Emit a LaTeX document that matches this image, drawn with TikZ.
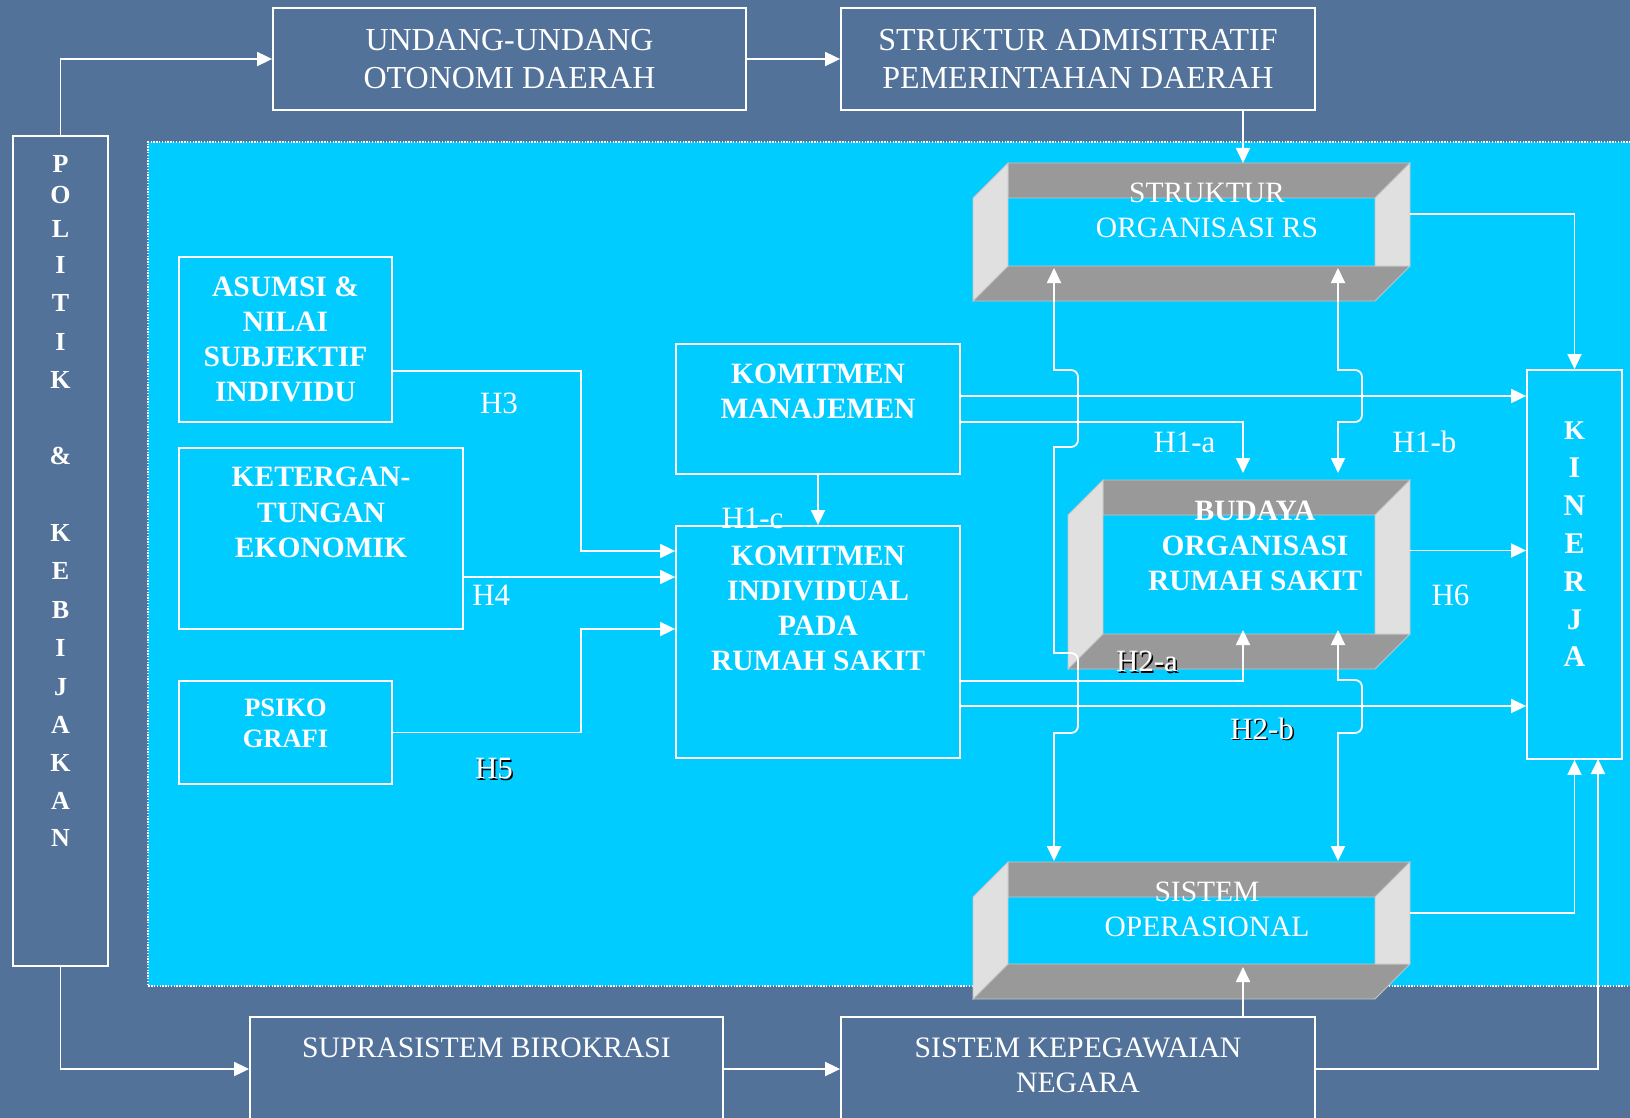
\documentclass[tikz,border=0pt]{standalone}
\usepackage{fontspec}
\setmainfont{Liberation Serif}
\usetikzlibrary{arrows.meta}
\definecolor{bgc}{RGB}{82,114,154}
\definecolor{panel}{RGB}{0,204,255}
\definecolor{dband}{RGB}{153,153,153}
\definecolor{lband}{RGB}{224,224,224}
\definecolor{edgec}{RGB}{196,196,196}
\newcommand\tdbox[4]{%
 \filldraw[fill=dband,draw=edgec,line width=.8pt] (#1+35,#2) -- (#3,#2) -- (#3-35,#2+35) -- (#1+35,#2+35) -- cycle;
 \filldraw[fill=dband,draw=edgec,line width=.8pt] (#1+35,#4-35) -- (#3,#4-35) -- (#3-35,#4) -- (#1,#4) -- cycle;
 \filldraw[fill=lband,draw=edgec,line width=.8pt] (#1,#2+35) -- (#1+35,#2) -- (#1+35,#4-35) -- (#1,#4) -- cycle;
 \filldraw[fill=lband,draw=edgec,line width=.8pt] (#3-35,#2+35) -- (#3,#2) -- (#3,#4-35) -- (#3-35,#4-35) -- cycle;
}
\begin{document}
\begin{tikzpicture}[x=1pt,y=-1pt,
  box/.style={draw=white, line width=1.8pt, inner sep=0pt},
  ghost/.style={inner sep=0pt},
  arr/.style={draw=white, line width=1.8pt, -{Triangle[width=14pt,length=15pt]}},
  darr/.style={draw=white, line width=1.8pt, {Triangle[width=14pt,length=15pt]}-{Triangle[width=14pt,length=15pt]}},
  t/.style={text=white, inner sep=0pt, anchor=base},
  fT/.style={font=\fontsize{32}{32}\selectfont},
  fR/.style={font=\fontsize{29.7}{29.7}\selectfont},
  fM/.style={font=\fontsize{29.5}{29.5}\selectfont},
  fB/.style={font=\fontsize{29.5}{29.5}\selectfont\bfseries},
  fS/.style={font=\fontsize{26.5}{26.5}\selectfont\bfseries},
  fP/.style={font=\fontsize{26}{26}\selectfont\bfseries},
  fK/.style={font=\fontsize{30}{30}\selectfont\bfseries},
  fH/.style={font=\fontsize{31}{31}\selectfont}]
\useasboundingbox (0,0) rectangle (1630,1118);
\clip (0,0) rectangle (1630,1118);
% background
\fill[bgc] (0,0) rectangle (1630,1118);
\fill[panel] (148,142) rectangle (1650,986);
\draw[white, line width=1.4pt, dash pattern=on 1.4pt off 1.4pt] (1650,142) -- (148,142) -- (148,986) -- (1650,986);

% 3D frames
\tdbox{973}{163}{1410}{301}
\tdbox{1068}{480}{1410}{669}
\tdbox{973}{862}{1410}{999}
\node[ghost, minimum width=437pt, minimum height=138pt] (sors) at (1191.5,232) {};
\node[ghost, minimum width=342pt, minimum height=189pt] (bud) at (1239,574.5) {};
\node[ghost, minimum width=437pt, minimum height=137pt] (so) at (1191.5,930.5) {};

% boxes
\node[box, minimum width=95pt, minimum height=830pt] (pol) at (60.5,551) {};
\node[box, minimum width=473pt, minimum height=102pt] (uu) at (509.5,59) {};
\node[box, minimum width=474pt, minimum height=102pt] (sa) at (1078,59) {};
\node[box, minimum width=213pt, minimum height=165pt] (asu) at (285.5,339.5) {};
\node[box, minimum width=284pt, minimum height=181pt] (ket) at (321,538.5) {};
\node[box, minimum width=213pt, minimum height=103pt] (psi) at (285.5,732.5) {};
\node[box, minimum width=284pt, minimum height=130pt] (km) at (818,409) {};
\node[box, minimum width=284pt, minimum height=232pt] (ki) at (818,642) {};
\node[box, minimum width=95pt, minimum height=389pt] (kin) at (1574.5,564.5) {};
\node[box, minimum width=473pt, minimum height=104pt] (sup) at (486.5,1069) {};
\node[box, minimum width=474pt, minimum height=104pt] (sk) at (1078,1069) {};

% named connector ends
\coordinate (sors-top) at (1243,163);
\coordinate (sors-r) at (1410,214);
\coordinate (bud-t1) at (1243,473);
\coordinate (bud-b1) at (1243,630);
\coordinate (bud-r) at (1410,550.5);
\coordinate (so-r) at (1410,913);
\coordinate (so-b) at (1243,967);
\coordinate (kin-b2) at (1598,759);
\coordinate (j1) at (581,551);
\coordinate (j2) at (581,629);
\coordinate (sors-b1) at (1054,268);
\coordinate (so-t1) at (1054,861);
\coordinate (sors-b2) at (1338,268);
\coordinate (bud-t2) at (1338,473);
\coordinate (bud-b2) at (1338,630);
\coordinate (so-t2) at (1338,861);

% connectors
\draw[arr] (pol.north) |- (uu.west);
\draw[arr] (uu.east) -- (sa.west);
\draw[arr] (sa.south -| sors-top) -- (sors-top);
\draw[arr] (sors-r) -| (kin.north);
\draw[arr] ([yshift=13pt]km.east) -- ([yshift=13pt]km.east -| kin.west);
\draw[arr] ([yshift=-13pt]km.east) -| (bud-t1);
\draw[arr] (km.south) -- (ki.north);
\draw[arr] ([yshift=-39pt]ki.east) -| (bud-b1);
\draw[arr] ([yshift=-64pt]ki.east) -- ([yshift=-64pt]ki.east -| kin.west);
\draw[arr] (bud-r) -- (bud-r -| kin.west);
\draw[arr] (so-r) -| (kin.south);
\draw[arr] (sk.east) -| (kin-b2);
\draw[arr] (sk.north -| so-b) -- (so-b);
\draw[arr] (pol.south) |- (sup.west);
\draw[arr] (sup.east) -- (sk.west);
\draw[arr] ([yshift=-31.5pt]asu.east) -| (j1) -- (j1 -| ki.west);
\draw[arr] ([yshift=-38.5pt]ket.east) -- ([yshift=-38.5pt]ket.east -| ki.west);
\draw[arr] (psi.east) -| (j2) -- (j2 -| ki.west);
% vertical two-headed connectors with jumps
\draw[darr] (sors-b1) -- (1054,370) -- (1071,370) to[out=0,in=90] (1078,377) -- (1078,440) to[out=-90,in=0] (1071,447) -- (1054,447)
  -- (1054,653) -- (1071,653) to[out=0,in=90] (1078,660) -- (1078,726) to[out=-90,in=0] (1071,733) -- (1054,733) -- (so-t1);
\draw[darr] (sors-b2) -- (1338,370) -- (1355,370) to[out=0,in=90] (1362,377) -- (1362,415) to[out=-90,in=0] (1355,422) -- (1338,422) -- (bud-t2);
\draw[darr] (bud-b2) -- (1338,680) -- (1355,680) to[out=0,in=90] (1362,687) -- (1362,726) to[out=-90,in=0] (1355,733) -- (1338,733) -- (so-t2);

% texts
\foreach \s [count=\i from 0] in {UNDANG-UNDANG, OTONOMI DAERAH}
  \node[t,fT] (uu-t\i) at (509.5,50.5+38*\i) {\s};
\foreach \s [count=\i from 0] in {STRUKTUR ADMISITRATIF, PEMERINTAHAN DAERAH}
  \node[t,fT] (sa-t\i) at (1078,50.5+38*\i) {\s};
\node[t,fR] (sup-t) at (486.5,1057.5) {SUPRASISTEM BIROKRASI};
\foreach \s [count=\i from 0] in {SISTEM KEPEGAWAIAN, NEGARA}
  \node[t,fR] (sk-t\i) at (1078,1057.5+35*\i) {\s};
\foreach \s [count=\i from 0] in {STRUKTUR, ORGANISASI RS}
  \node[t,fM] (sors-t\i) at (1207,202.7+34.6*\i) {\s};
\foreach \s [count=\i from 0] in {SISTEM, OPERASIONAL}
  \node[t,fM] (so-t\i) at (1207,901+35.7*\i) {\s};
\foreach \s [count=\i from 0] in {BUDAYA, ORGANISASI, RUMAH SAKIT}
  \node[t,fB] (bud-t\i) at (1255,520+35.35*\i) {\s};
\foreach \s [count=\i from 0] in {KOMITMEN, MANAJEMEN}
  \node[t,fB] (km-t\i) at (818,383.3+35*\i) {\s};
\foreach \s [count=\i from 0] in {KOMITMEN, INDIVIDUAL, PADA, RUMAH SAKIT}
  \node[t,fB] (ki-t\i) at (818,565+35.2*\i) {\s};
\foreach \s [count=\i from 0] in {ASUMSI \&, NILAI, SUBJEKTIF, INDIVIDU}
  \node[t,fB] (asu-t\i) at (285.5,296+35.3*\i) {\s};
\foreach \s [count=\i from 0] in {KETERGAN-, TUNGAN, EKONOMIK}
  \node[t,fB] (ket-t\i) at (321,486.4+35.75*\i) {\s};
\foreach \s [count=\i from 0] in {PSIKO, GRAFI}
  \node[t,fS] (psi-t\i) at (285.5,716.8+31.1*\i) {\s};
\foreach \s/\yy [count=\i from 0] in {P/172.5, O/204, L/237, I/273.5, T/311.5, I/350, K/388, \&/464,
   K/541, E/579.5, B/618, I/656.5, J/695, A/733, K/771, A/809, N/846.5}
  \node[t,fP] (pol-t\i) at (60.5,\yy) {\s};
\node[t,font=\fontsize{27}{27}\selectfont\bfseries] (kin-t0) at (1574.5,439.5) {K};
\foreach \s [count=\i from 1] in {I, N, E, R, J, A}
  \node[t,fK] (kin-t\i) at (1574.5,439.5+37.9*\i) {\s};
% hypothesis labels
\node[t,fH] (h3) at (499,413) {H3};
\node[t,fH] (h4) at (491.3,605) {H4};
\node[t,fH,text=black] (h5s) at (495.5,780) {H5};
\node[t,fH] (h5) at (494,778.5) {H5};
\node[t,fH] (h1c) at (752.5,528) {H1-c};
\node[t,fH] (h1a) at (1184.5,452) {H1-a};
\node[t,fH] (h1b) at (1424.5,452.5) {H1-b};
\node[t,fH] (h6) at (1450.5,605.5) {H6};
\node[t,fH,text=black] (h2as) at (1148.5,673.2) {H2-a};
\node[t,fH] (h2a) at (1147,671.7) {H2-a};
\node[t,fH,text=black] (h2bs) at (1263.5,740.8) {H2-b};
\node[t,fH] (h2b) at (1262,739.3) {H2-b};
\end{tikzpicture}
\end{document}
